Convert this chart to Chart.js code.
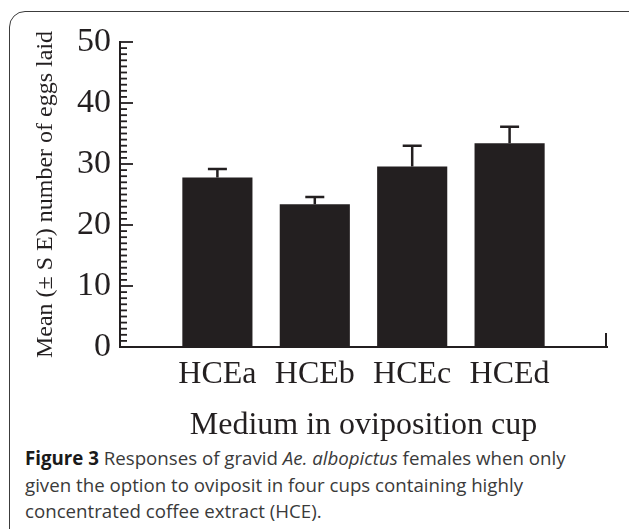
<!DOCTYPE html>
<html>
<head>
<meta charset="utf-8">
<script src="https://cdn.jsdelivr.net/npm/chart.js@4.4.0/dist/chart.umd.min.js"></script>
<style>
  html, body { margin: 0; padding: 0; background: #fff; }
  body { width: 629px; height: 529px; position: relative; overflow: hidden; }
  #frame {
    position: absolute; left: 9px; top: 11px; width: 640px; height: 600px;
    border: 1.5px solid #3c3c3c; border-radius: 16px; box-sizing: border-box;
  }
  #chartBox { position: absolute; left: 0; top: 0; width: 629px; height: 445px; }
  #caption {
    position: absolute; left: 25px; top: 445px; width: 600px;
    font-family: "Open Sans", sans-serif; font-size: 18.7px; line-height: 26.5px; color: #3a3a3a;
    white-space: nowrap;
  }
  #caption b { color: #1a1a1a; }
</style>
</head>
<body>
<div id="frame"></div>
<div id="chartBox"><canvas id="eggChart"></canvas></div>
<div id="caption"><b>Figure 3</b> Responses of gravid <i>Ae. albopictus</i> females when only<br>given the option to oviposit in four cups containing highly<br>concentrated coffee extract (HCE).</div>
<script>
// values
const categories = ["HCEa", "HCEb", "HCEc", "HCEd"];
const meanEggs = [27.8, 23.4, 29.6, 33.4];
const seEggs = [1.4, 1.2, 3.4, 2.7];
const yTicks = [0, 10, 20, 30, 40, 50];
const minorStep = 1;

const ink = "#231f20";
const serif = "'Liberation Serif', 'Times New Roman', serif";

// empty slot on each side so the axis runs one category past the bars
const labels = ["", ...categories, ""];
const values = [null, ...meanEggs, null];
const errors = [null, ...seEggs, null];

// inward ticks on the y axis + little end tick on x axis
const axisTicks = {
  id: "axisTicks",
  afterDraw(chart) {
    const { ctx, chartArea, scales: { y } } = chart;
    const yMin = yTicks[0], yMax = yTicks[yTicks.length - 1];
    ctx.save();
    ctx.strokeStyle = ink;
    ctx.lineWidth = 1.8;
    for (let v = yMin; v <= yMax; v += minorStep) {
      const py = y.getPixelForValue(v);
      const len = yTicks.includes(v) ? 13 : 7;
      ctx.beginPath();
      ctx.moveTo(chartArea.left, py);
      ctx.lineTo(chartArea.left + len, py);
      ctx.stroke();
    }
    ctx.lineWidth = 2;
    ctx.beginPath();
    ctx.moveTo(chartArea.right - 1, chartArea.bottom);
    ctx.lineTo(chartArea.right - 1, chartArea.bottom - 14);
    ctx.stroke();
    ctx.restore();
  }
};

// upper SE whiskers
const errorBars = {
  id: "errorBars",
  afterDatasetsDraw(chart) {
    const { ctx, scales: { y } } = chart;
    const meta = chart.getDatasetMeta(0);
    ctx.save();
    ctx.strokeStyle = ink;
    ctx.lineWidth = 2.5;
    meta.data.forEach((bar, i) => {
      if (errors[i] == null) return;
      const top = y.getPixelForValue(values[i] + errors[i]);
      ctx.beginPath();
      ctx.moveTo(bar.x, bar.y);
      ctx.lineTo(bar.x, top);
      ctx.moveTo(bar.x - 9.5, top);
      ctx.lineTo(bar.x + 9.5, top);
      ctx.stroke();
    });
    ctx.restore();
  }
};

new Chart(document.getElementById("eggChart"), {
  type: "bar",
  data: {
    labels,
    datasets: [{
      data: values,
      backgroundColor: ink,
      borderWidth: 0,
      categoryPercentage: 1,
      barPercentage: 0.72
    }]
  },
  options: {
    responsive: true,
    maintainAspectRatio: false,
    animation: false,
    layout: { padding: { top: 42, right: 22, left: 0, bottom: 0 } },
    plugins: { legend: { display: false }, tooltip: { enabled: false } },
    scales: {
      x: {
        offset: false,
        grid: { display: false, drawTicks: false },
        border: { display: true, color: ink, width: 2 },
        ticks: { color: ink, padding: 8, font: { family: serif, size: 32 }, maxRotation: 0, autoSkip: false },
        title: {
          display: true,
          text: "Medium in oviposition cup",
          color: ink,
          font: { family: serif, size: 32 },
          padding: { top: 4, bottom: 0 }
        },
        afterFit: (scale) => { scale.height = 98; }
      },
      y: {
        min: yTicks[0],
        max: yTicks[yTicks.length - 1],
        grid: { display: false, drawTicks: false },
        border: { display: true, color: ink, width: 2 },
        ticks: { color: ink, stepSize: 10, padding: 9, font: { family: serif, size: 34 } },
        title: {
          display: true,
          text: "Mean (± S E) number of eggs laid",
          color: ink,
          font: { family: serif, size: 24 },
          padding: { top: 31, bottom: 0 }
        },
        afterFit: (scale) => { scale.width = 120; }
      }
    }
  },
  plugins: [axisTicks, errorBars]
});
</script>
</body>
</html>
